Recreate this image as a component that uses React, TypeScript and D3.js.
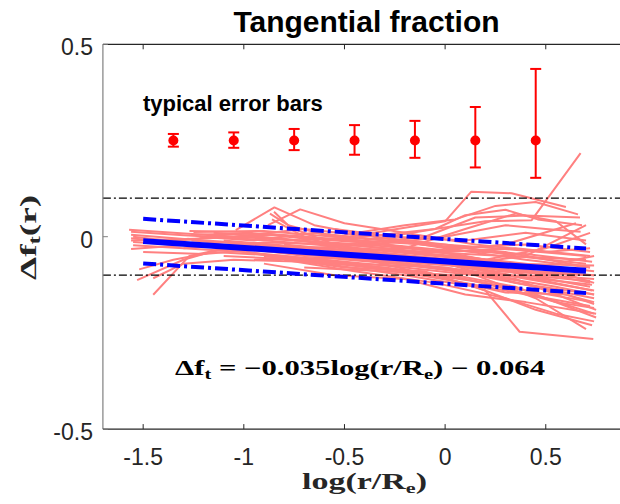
import React from 'react';
import * as d3 from 'd3';

const xTicks = [-1.5, -1, -0.5, 0, 0.5];
const xTickLabels = ['-1.5', '-1', '-0.5', '0', '0.5'];
const yTicks = [-0.5, 0, 0.5];
const yTickLabels = ['-0.5', '0', '0.5'];

const errX = [-1.35, -1.05, -0.75, -0.45, -0.15, 0.15, 0.45];
const errY = [0.25, 0.25, 0.25, 0.25, 0.25, 0.25, 0.25];
const errUp = [0.017, 0.021, 0.03, 0.04, 0.051, 0.087, 0.186];
const errDown = [0.016, 0.019, 0.025, 0.037, 0.045, 0.07, 0.097];

const fitSlope = -0.035;
const fitIntercept = -0.064;
const fitRange = [-1.5, 0.7];
const fitScatter = 0.058;
const refLevels = [0.1, -0.1];

const galaxyProfiles: [number, number][][] = [
  [[-1.56,0.013],[-1.3,0.004],[-1.0,-0.005],[-0.65,-0.02],[-0.3,-0.035],[0.05,-0.05],[0.4,-0.07],[0.74,-0.09]],
  [[-1.56,0.005],[-1.25,-0.008],[-0.9,-0.02],[-0.5,-0.045],[-0.1,-0.06],[0.3,-0.1],[0.74,-0.14]],
  [[-1.56,-0.004],[-1.3,-0.018],[-0.95,-0.03],[-0.55,-0.028],[-0.15,-0.05],[0.25,-0.07],[0.72,-0.12]],
  [[-1.55,-0.014],[-1.2,-0.025],[-0.8,-0.042],[-0.4,-0.06],[0.05,-0.09],[0.45,-0.13],[0.74,-0.17]],
  [[-1.55,-0.022],[-1.3,-0.03],[-0.9,-0.015],[-0.5,-0.02],[-0.1,-0.04],[0.3,-0.05],[0.7,-0.06]],
  [[-1.56,-0.032],[-1.25,-0.02],[-0.85,-0.05],[-0.45,-0.07],[0.0,-0.08],[0.35,-0.11],[0.75,-0.19]],
  [[-1.55,0.0],[-1.35,-0.012],[-1.1,0.002],[-0.75,-0.01],[-0.4,-0.02],[0.0,-0.04],[0.35,-0.03],[0.72,-0.05]],
  [[-1.53,-0.113],[-1.3,-0.06],[-1.1,-0.03],[-0.7,-0.04],[-0.3,-0.06],[0.1,-0.07],[0.5,-0.1],[0.74,-0.11]],
  [[-1.45,-0.151],[-1.27,-0.05],[-1.0,-0.02],[-0.6,-0.03],[-0.2,-0.05],[0.2,-0.08],[0.72,-0.13]],
  [[-1.45,-0.108],[-1.3,-0.07],[-1.05,-0.06],[-0.7,-0.065],[-0.3,-0.08],[0.1,-0.11],[0.5,-0.16],[0.74,-0.2]],
  [[-1.52,-0.085],[-1.35,-0.06],[-1.15,-0.04],[-0.8,-0.05],[-0.4,-0.075],[0.0,-0.1],[0.4,-0.14],[0.73,-0.17]],
  [[-1.5,-0.04],[-1.2,-0.045],[-0.85,-0.03],[-0.5,-0.05],[-0.1,-0.07],[0.3,-0.085],[0.74,-0.1]],
  [[-1.26,0.006],[-0.9,0.008],[-0.5,-0.008],[-0.1,-0.02],[0.3,-0.04],[0.72,-0.08]],
  [[-1.26,-0.01],[-0.95,-0.02],[-0.6,-0.04],[-0.2,-0.07],[0.2,-0.1],[0.55,-0.13],[0.74,-0.15]],
  [[-1.25,0.012],[-0.9,0.015],[-0.55,0.0],[-0.15,-0.015],[0.25,-0.03],[0.7,-0.05]],
  [[-1.2,-0.02],[-0.85,-0.035],[-0.5,-0.055],[-0.1,-0.075],[0.3,-0.1],[0.73,-0.125]],
  [[-1.22,0.0],[-0.95,-0.01],[-0.65,0.01],[-0.3,-0.01],[0.05,-0.03],[0.4,-0.02],[0.72,-0.04]],
  [[-1.15,0.01],[-0.8,-0.005],[-0.45,-0.03],[-0.05,-0.05],[0.35,-0.07],[0.74,-0.075]],
  [[-1.04,0.017],[-0.848,0.076],[-0.65,0.03],[-0.35,0.0],[0.0,-0.03],[0.4,-0.06],[0.72,-0.08]],
  [[-0.88,0.03],[-0.72,0.071],[-0.5,0.035],[-0.2,0.01],[0.15,-0.02],[0.5,-0.04],[0.72,-0.03]],
  [[-0.87,0.06],[-0.75,0.02],[-0.55,-0.02],[-0.25,-0.05],[0.1,-0.08],[0.45,-0.11],[0.73,-0.14]],
  [[-0.86,0.045],[-0.7,0.0],[-0.45,-0.04],[-0.1,-0.06],[0.25,-0.09],[0.72,-0.1]],
  [[-0.85,0.065],[-0.78,0.03],[-0.6,0.005],[-0.3,-0.02],[0.05,-0.045],[0.4,-0.08],[0.7,-0.09]],
  [[-0.6,-0.01],[-0.3,0.015],[0.0,0.04],[0.13,0.117],[0.33,0.113],[0.6,0.077]],
  [[-0.5,0.005],[-0.2,0.03],[0.05,0.045],[0.25,0.08],[0.45,0.09],[0.66,0.058]],
  [[-0.75,-0.01],[-0.4,0.0],[-0.05,0.02],[0.2,0.04],[0.43,0.043],[0.673,0.217]],
  [[-0.45,-0.02],[-0.1,0.0],[0.15,0.05],[0.4,0.055],[0.67,0.05]],
  [[-0.7,-0.03],[-0.35,-0.02],[0.0,0.0],[0.3,0.03],[0.5,0.02],[0.673,0.013]],
  [[-0.6,-0.04],[-0.2,-0.03],[0.1,0.02],[0.35,0.06],[0.55,0.04],[0.7,-0.02]],
  [[-0.4,-0.01],[-0.05,0.02],[0.1,0.056],[0.3,0.07],[0.46,0.045],[0.68,0.03]],
  [[-0.9,-0.05],[-0.5,-0.08],[-0.1,-0.09],[0.2,-0.14],[0.37,-0.247],[0.736,-0.266]],
  [[-1.0,-0.04],[-0.6,-0.07],[-0.2,-0.1],[0.15,-0.13],[0.45,-0.19],[0.73,-0.23]],
  [[-0.8,-0.06],[-0.45,-0.09],[-0.05,-0.12],[0.3,-0.16],[0.55,-0.2],[0.74,-0.22]],
  [[-0.9,-0.07],[-0.55,-0.1],[-0.2,-0.11],[0.1,-0.15],[0.4,-0.17],[0.75,-0.2]],
  [[-0.7,-0.08],[-0.3,-0.09],[0.05,-0.1],[0.35,-0.13],[0.6,-0.18],[0.75,-0.21]],
  [[-1.1,-0.05],[-0.7,-0.06],[-0.3,-0.085],[0.1,-0.12],[0.4,-0.15],[0.72,-0.18]],
  [[-0.95,-0.06],[-0.6,-0.055],[-0.25,-0.07],[0.1,-0.09],[0.45,-0.13],[0.74,-0.16]],
  [[-0.6,-0.06],[-0.2,-0.08],[0.15,-0.1],[0.45,-0.16],[0.7,-0.24]],
  [[-0.3,-0.06],[0.1,-0.07],[0.4,-0.05],[0.7,0.03]],
  [[-0.2,-0.04],[0.2,-0.06],[0.5,-0.03],[0.72,0.01]],
  [[-0.5,-0.03],[-0.1,-0.04],[0.3,-0.02],[0.65,0.035]],
  [[-0.8,-0.02],[-0.4,-0.04],[0.0,-0.06],[0.3,-0.09],[0.55,-0.07],[0.74,-0.05]],
  [[-1.1,-0.01],[-0.75,-0.025],[-0.4,-0.045],[0.0,-0.07],[0.35,-0.12],[0.74,-0.15]],
  [[-1.3,-0.03],[-1.0,-0.04],[-0.6,-0.06],[-0.2,-0.09],[0.2,-0.12],[0.55,-0.17],[0.74,-0.185]],
  [[-0.55,0.02],[-0.25,0.0],[0.1,-0.01],[0.4,0.01],[0.7,-0.01]],
  [[-1.57,0.018],[-1.35,0.01],[-1.05,0.0],[-0.7,0.02],[-0.35,0.0],[0.0,-0.02],[0.35,-0.05],[0.7,-0.07]],
  [[-1.56,-0.01],[-1.2,-0.005],[-0.85,0.005],[-0.5,-0.01],[-0.15,-0.03],[0.2,-0.06],[0.55,-0.09],[0.74,-0.12]],
  [[-1.27,0.015],[-1.0,0.012],[-0.7,-0.005],[-0.4,-0.015],[0.0,-0.035],[0.4,-0.045],[0.73,-0.065]],
  [[-1.28,-0.005],[-1.0,-0.03],[-0.7,-0.05],[-0.35,-0.045],[0.0,-0.06],[0.4,-0.09],[0.74,-0.1]],
  [[-1.0,-0.02],[-0.7,-0.035],[-0.35,-0.065],[0.0,-0.11],[0.3,-0.145],[0.6,-0.15],[0.74,-0.175]],
  [[-0.95,0.0],[-0.6,-0.015],[-0.3,-0.03],[0.05,-0.055],[0.4,-0.1],[0.72,-0.115]],
];

const W = 620;
const H = 504;
const left = 102.9;
const right = 626.3;
const top = 44.3;
const bottom = 429.1;

export default function App() {
  const x = d3.scaleLinear().domain([-1.7, 0.9]).range([left, right]);
  const y = d3.scaleLinear().domain([-0.5, 0.5]).range([bottom, top]);
  const line = d3.line<[number, number]>().x(d => x(d[0])).y(d => y(d[1]));
  const fit = (dx: number, off: number): [number, number] => [dx, fitSlope * dx + fitIntercept + off];
  const sans = '"Liberation Sans", Arial, Helvetica, sans-serif';
  const serif = '"Liberation Serif", "Times New Roman", serif';
  const tickLen = 5;
  const tickColor = '#262626';

  return (
    <svg width={W} height={H} style={{ position: 'absolute', left: 0, top: 0, background: '#fff' }}>
      <rect x={0} y={0} width={W} height={H} fill="#fff" />
      <g fill="none" stroke="#FF8080" strokeWidth={2} strokeLinejoin="round">
        {galaxyProfiles.map((p, i) => (
          <path key={i} d={line(p) || ''} />
        ))}
      </g>
      {refLevels.map((v, i) => (
        <line key={i} x1={x(-1.7)} x2={x(0.9)} y1={y(v)} y2={y(v)} stroke="#000" strokeWidth={1.2} strokeDasharray="8,3,2,3" />
      ))}
      <path d={line([fit(fitRange[0], fitScatter), fit(fitRange[1], fitScatter)]) || ''} stroke="#0000FF" strokeWidth={4} fill="none" strokeDasharray="13,4,3,4" />
      <path d={line([fit(fitRange[0], -fitScatter), fit(fitRange[1], -fitScatter)]) || ''} stroke="#0000FF" strokeWidth={4} fill="none" strokeDasharray="13,4,3,4" />
      <path d={line([fit(fitRange[0], 0), fit(fitRange[1], 0)]) || ''} stroke="#0000FF" strokeWidth={6} fill="none" />
      <g stroke="#FF0000" strokeWidth={2} fill="#FF0000">
        {errX.map((ex, i) => {
          const cx = x(ex);
          const y1 = y(errY[i] + errUp[i]);
          const y2 = y(errY[i] - errDown[i]);
          return (
            <g key={i}>
              <line x1={cx} x2={cx} y1={y1} y2={y2} />
              <line x1={cx - 5.5} x2={cx + 5.5} y1={y1} y2={y1} />
              <line x1={cx - 5.5} x2={cx + 5.5} y1={y2} y2={y2} />
              <circle cx={cx} cy={y(errY[i])} r={5} stroke="none" />
            </g>
          );
        })}
      </g>
      <text x={143} y={111} fontFamily={sans} fontWeight="bold" fontSize={22} fill="#000">typical error bars</text>
      <line x1={left} x2={left} y1={top} y2={bottom} stroke="#808080" strokeWidth={1.2} />
      <line x1={left} x2={W} y1={bottom} y2={bottom} stroke={tickColor} strokeWidth={1.2} />
      <line x1={left} x2={W} y1={top} y2={top} stroke={tickColor} strokeWidth={1.2} />
      {xTicks.map((t, i) => (
        <g key={i}>
          <line x1={x(t)} x2={x(t)} y1={bottom} y2={bottom - tickLen} stroke={tickColor} />
          <line x1={x(t)} x2={x(t)} y1={top} y2={top + tickLen} stroke={tickColor} />
          <text x={x(t)} y={465} textAnchor="middle" fontFamily={sans} fontSize={23} fill={tickColor}>{xTickLabels[i]}</text>
        </g>
      ))}
      {yTicks.map((t, i) => (
        <g key={i}>
          <line x1={left} x2={left + tickLen} y1={y(t)} y2={y(t)} stroke="#808080" />
          <text x={93} y={y(t) + 11} textAnchor="end" fontFamily={sans} fontSize={23} fill={tickColor}>{yTickLabels[i]}</text>
        </g>
      ))}
      <text x={366.5} y={32} textAnchor="middle" fontFamily={sans} fontWeight="bold" fontSize={30} fill="#000">Tangential fraction</text>
      <text x={302} y={489} fontFamily={serif} fontWeight="bold" fontSize={23} fill={tickColor} textLength={125} lengthAdjust="spacingAndGlyphs">
        log(r/R<tspan dy={4} fontSize={15}>e</tspan><tspan dy={-4}>)</tspan>
      </text>
      <text transform="translate(36,280) rotate(-90)" fontFamily={serif} fontWeight="bold" fontSize={24} fill={tickColor} textLength={85} lengthAdjust="spacingAndGlyphs">
        Δf<tspan dy={4} fontSize={16}>t</tspan><tspan dy={-4}>(r)</tspan>
      </text>
      <text x={175} y={375} fontFamily={serif} fontWeight="bold" fontSize={21} fill="#000" textLength={370} lengthAdjust="spacingAndGlyphs">
        Δf<tspan dy={4} fontSize={14}>t</tspan><tspan dy={-4}> = −0.035log(r/R</tspan><tspan dy={4} fontSize={14}>e</tspan><tspan dy={-4}>) − 0.064</tspan>
      </text>
    </svg>
  );
}
